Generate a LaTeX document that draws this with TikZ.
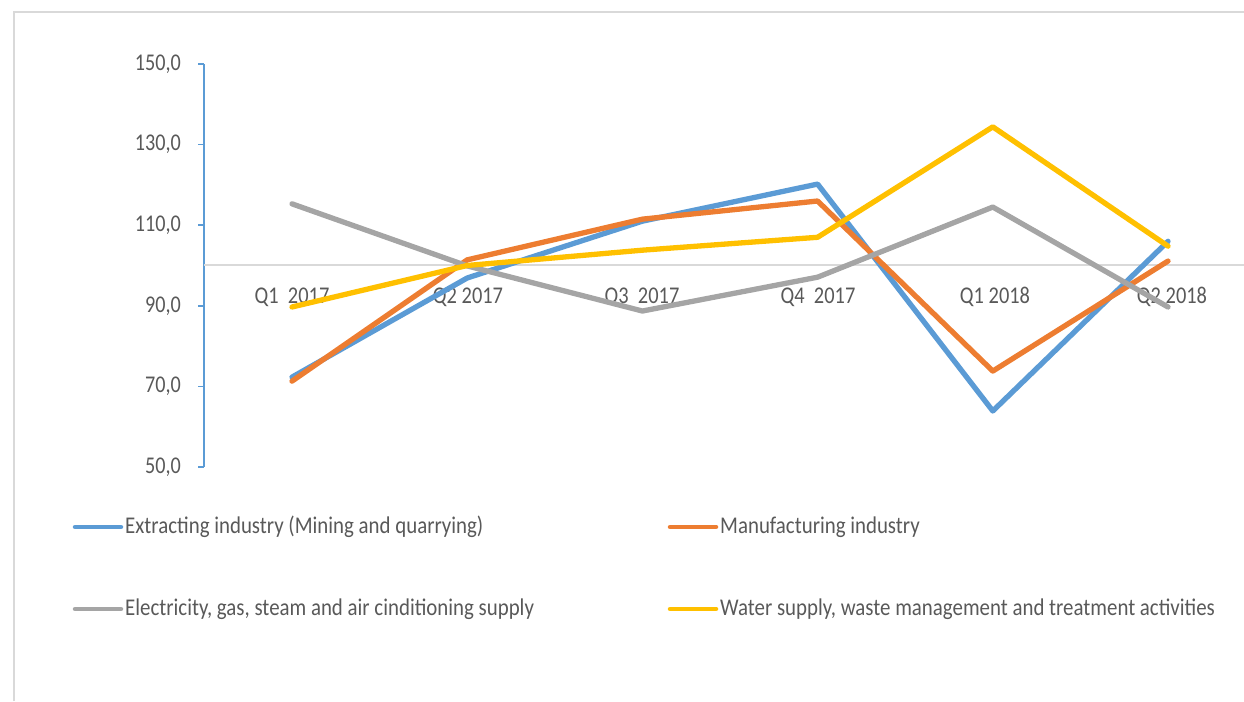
\documentclass[tikz,border=0pt]{standalone}
\usepackage{fontspec}
\setmainfont{Carlito}
\usetikzlibrary{positioning}
\definecolor{serieblue}{HTML}{5B9BD5}
\definecolor{serieorange}{HTML}{ED7D31}
\definecolor{seriegray}{HTML}{A5A5A5}
\definecolor{serieyellow}{HTML}{FFC000}
\definecolor{labelgray}{HTML}{595959}
\definecolor{gridgray}{HTML}{D9D9D9}
\newcommand{\narrow}[2]{\scalebox{#1}[1]{#2}}

\begin{document}
\begin{tikzpicture}[x=1pt, y=1pt, every node/.style={font=\fontsize{24}{28}\selectfont, text=labelgray, inner sep=0pt},
    serie/.style={line width=5.3pt, line join=round, line cap=round}]
  \useasboundingbox (0,0) rectangle (1244,701);
  \draw[gridgray, line width=2pt] (13.5,0) -- (13.5,689) -- (1244,689);
  % value axis
  \draw[serieblue, line width=2pt] (204,234) -- (204,637);
  \foreach \v in {50,70,...,150} {
    \draw[serieblue, line width=1.6pt] (198,{234+(\v-50)*4.03}) -- (204,{234+(\v-50)*4.03});
    \node[anchor=east] (tick\v) at (181,{234+(\v-50)*4.03}) {\narrow{0.84}{\v,0}};
  }
  \draw[gridgray, line width=2pt] (204,435.5) -- (1244,435.5);
  % quarters
  \node at (292,404) (q1a) {\narrow{0.85}{Q1\ \ 2017}};
  \node at (468,404) (q2a) {\narrow{0.85}{Q2 2017}};
  \node at (642,404) (q3a) {\narrow{0.85}{Q3\ \ 2017}};
  \node at (818,404) (q4a) {\narrow{0.85}{Q4\ \ 2017}};
  \node at (995,404) (q1b) {\narrow{0.85}{Q1 2018}};
  \node at (1172,404) (q2b) {\narrow{0.85}{Q2 2018}};
  % series
  \begin{scope}[x=175.2pt, y=4.03pt, shift={(292pt,32.5pt)}]
    \draw[serie, serieblue] plot coordinates {(0,72.3) (1,96.9) (2,111) (3,120.2) (4,63.9) (5,106)};
    \draw[serie, serieorange] plot coordinates {(0,71.3) (1,101.4) (2,111.5) (3,116) (4,73.8) (5,101.1)};
    \draw[serie, seriegray] plot coordinates {(0,115.3) (1,99.9) (2,88.7) (3,97.1) (4,114.5) (5,89.7)};
    \draw[serie, serieyellow] plot coordinates {(0,89.7) (1,100) (2,103.8) (3,107) (4,134.4) (5,104.8)};
  \end{scope}
  % legend
  \node[anchor=west] at (125,174) (lgextract) {\narrow{0.87}{Extracting industry (Mining and quarrying)}};
  \node[anchor=west] at (720,174) (lgmanuf) {\narrow{0.87}{Manufacturing industry}};
  \node[anchor=west] at (125,92) (lgelec) {\narrow{0.87}{Electricity, gas, steam and air cinditioning supply}};
  \node[anchor=west] at (720,92) (lgwater) {\narrow{0.87}{Water supply, waste management and treatment activities}};
  \draw[serie, serieblue, line width=4.5pt] ([xshift=-4pt]lgextract.west) -- ++(-46,0);
  \draw[serie, serieorange, line width=4.5pt] ([xshift=-4pt]lgmanuf.west) -- ++(-46,0);
  \draw[serie, seriegray, line width=4.5pt] ([xshift=-4pt]lgelec.west) -- ++(-46,0);
  \draw[serie, serieyellow, line width=4.5pt] ([xshift=-4pt]lgwater.west) -- ++(-46,0);
\end{tikzpicture}
\end{document}
